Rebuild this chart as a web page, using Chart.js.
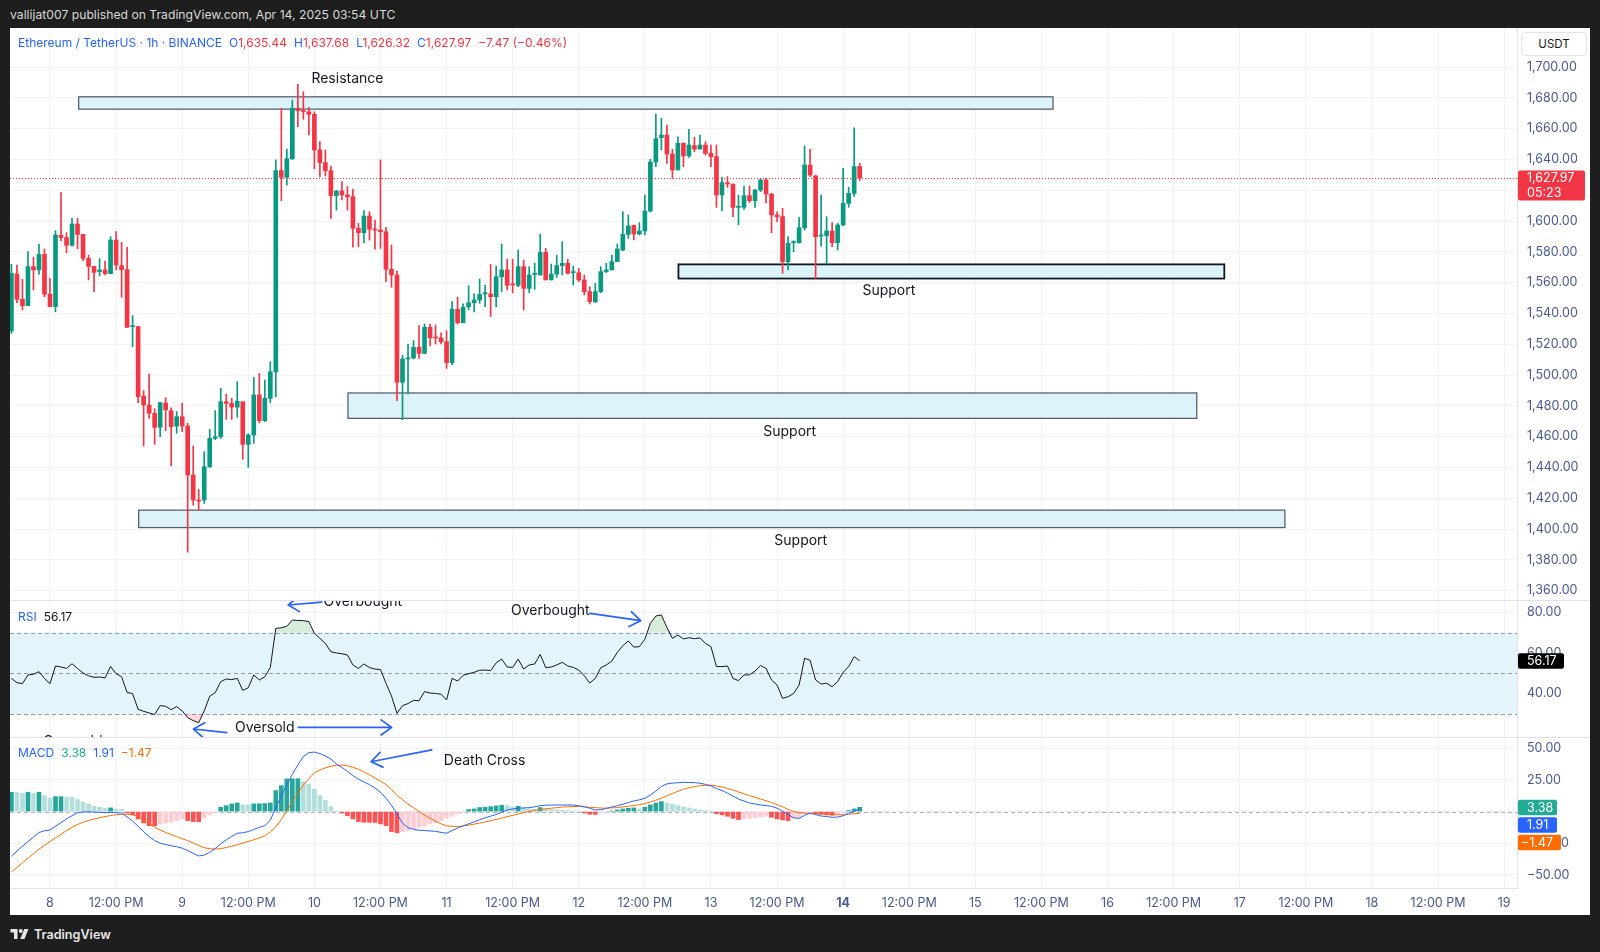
<!DOCTYPE html>
<html>
<head>
<meta charset="utf-8">
<script src="https://cdn.jsdelivr.net/npm/chart.js@4.4.1/dist/chart.umd.min.js"></script>
<style>
  html, body { margin:0; padding:0; }
  body { width:1600px; height:952px; background:#1e1e1e; position:relative; overflow:hidden; font-family: Inter, "Noto Sans", sans-serif; }
  #topbar { position:absolute; left:10px; top:0; height:28px; line-height:30px; color:#d8d8d8; font-size:12.2px; }
  #panel { position:absolute; left:10px; top:28px; width:1580px; height:887px; background:#fff; }
  .pane { position:absolute; left:10px; }
  .pane canvas { display:block; }
  .sep { position:absolute; left:10px; width:1580px; height:1px; background:#e0e3eb; z-index:5; }
  .legend { position:absolute; left:18px; font-size:12px; white-space:nowrap; line-height:16px; z-index:6; display:flex; gap:7px; }
  .blue { color:#2962ff; } .red { color:#f23645; } .dark { color:#131722; }
  #usdt { position:absolute; left:1521px; top:32px; width:64px; height:22px; border:1px solid #e0e3eb; border-radius:5px; background:#fff;
          font-size:11.5px; color:#131722; text-align:center; line-height:22px; z-index:6; }
  #brand { position:absolute; left:10px; top:925px; height:18px; display:flex; align-items:center; color:#e6e6e6; font-size:12.6px; font-weight:600; }
  #brand svg { margin-right:5px; }
</style>
</head>
<body>
<div id="topbar">vallijat007 published on TradingView.com, Apr 14, 2025 03:54 UTC</div>
<div id="panel"></div>

<div class="pane" style="top:28px"><canvas id="priceCanvas" width="1580" height="572"></canvas></div>
<div class="pane" style="top:600px"><canvas id="rsiCanvas" width="1580" height="137"></canvas></div>
<div class="pane" style="top:737px"><canvas id="macdCanvas" width="1580" height="178"></canvas></div>
<div class="sep" style="top:600px"></div>
<div class="sep" style="top:737px"></div>

<div class="legend" style="top:35px">
  <span class="blue">Ethereum / TetherUS · 1h · BINANCE</span>
  <span><span class="blue">O</span><span class="red">1,635.44</span></span>
  <span><span class="blue">H</span><span class="red">1,637.68</span></span>
  <span><span class="blue">L</span><span class="red">1,626.32</span></span>
  <span><span class="blue">C</span><span class="red">1,627.97</span></span>
  <span class="red">−7.47 (−0.46%)</span>
</div>
<div class="legend" style="top:609px"><span class="blue">RSI</span><span class="dark">56.17</span></div>
<div class="legend" style="top:745px"><span class="blue">MACD</span><span style="color:#22ab94">3.38</span><span class="blue">1.91</span><span style="color:#ff6d00">−1.47</span></div>
<div id="usdt">USDT</div>
<div id="brand"><svg width="19" height="14" viewBox="0 0 36 28"><path d="M14 24H7V11H0V4h14v20zM28 24h-8.5l8-20h8.5L28 24z" fill="#e6e6e6"/><circle cx="20.5" cy="8" r="4" fill="#e6e6e6"/></svg>TradingView</div>

<script>
// ================= DATA =================
// hours counted from Apr 8 00:00 (UTC); first candle = Apr 7 17:00, 1h candles
const firstHour = -7;

const opens = [1528.7,1565.7,1549.2,1545.1,1570.4,1568.3,1578.4,1552.5,1544.5,1590.8,
 1589.3,1584.3,1598.1,1591.4,1575.8,1570.6,1567.2,1568.3,1565.9,1587.7,
 1571.1,1568.5,1531.5,1531.5,1486.4,1480.6,1475.2,1466.1,1481.9,1476.9,
 1466.9,1473.0,1466.9,1435.1,1418.9,1418.9,1440.5,1459.0,1460.0,1482.7,
 1481.7,1479.2,1482.7,1455.0,1461.1,1487.1,1470.4,1484.9,1502.2,1632.8,
 1628.4,1640.5,1673.2,1671.7,1671.0,1669.3,1646.2,1638.0,1632.8,1616.5,
 1619.5,1617.0,1615.9,1595.3,1592.5,1603.3,1594.7,1594.2,1593.1,1568.7,
 1565.0,1495.3,1510.5,1511.1,1518.0,1514.1,1531.0,1524.5,1524.1,1521.7,
 1508.1,1542.7,1534.0,1544.4,1547.0,1548.8,1552.7,1552.7,1550.9,1563.9,
 1568.3,1559.2,1558.3,1570.4,1556.3,1565.4,1565.0,1579.7,1561.8,1565.6,
 1571.1,1572.6,1566.5,1566.5,1561.8,1554.2,1547.7,1554.2,1567.2,1568.3,
 1573.7,1581.2,1591.4,1597.2,1591.6,1593.6,1606.5,1638.4,1654.2,1655.9,
 1643.6,1633.2,1650.5,1642.3,1649.0,1646.8,1649.4,1644.0,1641.8,1617.0,
 1625.0,1624.1,1608.9,1608.9,1616.5,1613.3,1620.2,1626.7,1617.6,1604.0,
 1602.9,1573.7,1586.0,1586.0,1595.7,1636.4,1629.3,1590.3,1590.5,1593.6,
 1586.0,1597.5,1611.5,1618.0,1635.44];

const highs = [1572.0,1571.5,1562.2,1580.2,1576.5,1585.1,1581.9,1562.8,1593.8,1618.5,
 1592.5,1601.8,1601.8,1591.4,1578.0,1570.6,1575.6,1574.1,1589.9,1593.2,
 1586.2,1583.0,1538.6,1531.5,1489.9,1500.7,1478.2,1482.1,1485.4,1478.7,
 1476.3,1481.7,1468.7,1454.0,1425.8,1450.3,1464.8,1476.9,1491.4,1487.7,
 1485.0,1495.7,1482.7,1462.0,1498.5,1501.1,1496.8,1508.7,1639.7,1673.2,
 1646.6,1678.6,1689.0,1684.0,1673.9,1671.0,1651.6,1646.2,1635.8,1620.0,
 1625.6,1622.4,1620.6,1598.5,1606.8,1606.1,1600.7,1639.7,1595.9,1584.5,
 1567.6,1513.0,1520.2,1522.4,1532.1,1533.2,1533.2,1532.5,1527.5,1528.8,
 1547.7,1550.5,1546.2,1558.1,1552.7,1562.4,1558.5,1571.9,1570.8,1584.9,
 1575.2,1575.2,1581.2,1574.7,1570.4,1572.6,1591.4,1582.3,1572.1,1577.9,
 1586.6,1575.2,1570.8,1569.3,1565.0,1557.4,1559.6,1570.4,1572.6,1578.0,
 1585.1,1606.1,1604.0,1597.5,1599.0,1616.9,1640.1,1669.5,1666.7,1662.4,
 1646.6,1654.8,1650.9,1659.6,1654.4,1655.9,1651.6,1649.4,1649.4,1628.4,
 1628.9,1624.1,1616.9,1622.8,1622.8,1620.6,1627.8,1627.8,1618.0,1606.1,
 1608.3,1589.9,1587.3,1602.4,1648.8,1646.6,1629.9,1616.9,1602.9,1599.0,
 1598.5,1634.3,1622.0,1660.5,1637.68];

const lows = [1527.0,1547.1,1542.3,1545.1,1555.3,1565.4,1550.9,1544.5,1541.2,1587.3,
 1579.5,1583.8,1582.1,1574.3,1561.8,1554.2,1564.4,1565.0,1565.9,1568.3,
 1550.5,1531.0,1518.5,1482.1,1454.0,1471.9,1455.1,1460.0,1463.9,1441.2,
 1462.2,1463.3,1385.0,1415.6,1412.4,1416.7,1440.0,1458.0,1458.9,1471.3,
 1471.3,1472.6,1445.3,1440.1,1455.7,1469.0,1469.8,1482.0,1486.0,1613.3,
 1623.4,1640.0,1661.3,1666.1,1655.9,1634.0,1628.9,1629.3,1601.8,1607.2,
 1613.7,1607.2,1583.0,1583.4,1586.0,1587.7,1581.7,1582.3,1560.7,1557.0,
 1483.4,1471.0,1487.7,1510.5,1510.9,1514.1,1518.9,1520.2,1520.2,1504.4,
 1506.6,1533.2,1534.0,1542.3,1541.0,1546.6,1544.4,1538.0,1544.4,1554.2,
 1555.3,1553.5,1557.4,1542.3,1553.5,1555.7,1565.0,1561.8,1561.8,1563.5,
 1565.0,1565.6,1558.5,1560.7,1552.0,1546.2,1547.0,1553.5,1566.5,1568.3,
 1573.7,1580.8,1588.8,1587.7,1591.0,1591.0,1605.9,1635.3,1646.2,1637.5,
 1627.8,1633.2,1635.3,1641.4,1645.1,1646.8,1642.9,1635.3,1608.9,1606.6,
 1621.9,1602.9,1597.5,1607.6,1612.0,1608.9,1619.1,1612.0,1592.5,1599.6,
 1566.1,1568.3,1580.1,1585.6,1594.2,1628.9,1562.5,1583.8,1572.1,1583.4,
 1581.2,1596.8,1609.0,1616.0,1626.32];

const closes = [1566.1,1549.2,1545.1,1570.4,1568.3,1578.4,1552.5,1544.5,1591.0,1589.3,
 1584.3,1598.1,1591.4,1575.8,1570.6,1566.7,1568.3,1565.9,1587.7,1571.5,
 1568.5,1531.0,1532.1,1486.0,1480.6,1475.2,1466.1,1482.1,1477.4,1466.5,
 1473.0,1466.9,1435.1,1418.9,1418.2,1440.5,1458.9,1460.0,1482.7,1481.7,
 1479.2,1483.0,1455.0,1461.1,1487.1,1470.4,1484.9,1502.2,1632.8,1628.4,
 1640.5,1673.2,1671.7,1671.0,1669.3,1646.2,1638.0,1632.8,1616.5,1619.5,
 1617.0,1615.8,1595.3,1592.5,1603.3,1594.7,1594.2,1593.1,1568.7,1565.0,
 1495.3,1510.5,1511.1,1518.0,1514.1,1531.0,1524.3,1524.1,1521.7,1508.1,
 1542.7,1534.0,1544.0,1547.0,1548.8,1552.4,1553.5,1550.9,1563.9,1568.3,
 1558.3,1558.5,1570.4,1556.3,1565.0,1566.1,1579.7,1561.8,1565.6,1571.1,
 1572.6,1566.1,1567.0,1561.8,1554.2,1547.7,1554.2,1567.2,1568.3,1573.7,
 1581.9,1591.4,1596.8,1591.6,1593.6,1606.5,1638.4,1653.5,1655.9,1643.6,
 1633.2,1650.5,1642.3,1649.4,1646.8,1649.4,1644.0,1641.8,1617.0,1625.0,
 1624.1,1608.9,1609.6,1616.5,1613.3,1620.2,1626.7,1617.6,1604.0,1602.9,
 1573.7,1585.6,1586.6,1595.7,1636.4,1629.9,1589.9,1591.0,1593.6,1586.0,
 1597.5,1611.5,1618.0,1635.4,1627.97];

const rsiValues = [47.5,45.4,44.9,49.2,49.5,50.8,47.5,44.9,53.6,53.1,
 52.4,54.7,52.4,50.1,48.8,48.0,48.2,47.7,53.4,49.8,
 48.3,40.6,40.0,32.3,31.3,30.5,29.7,34.1,33.8,32.1,
 33.6,31.5,28.2,26.7,25.7,31.5,38.7,40.5,45.9,47.2,
 46.9,47.5,41.6,42.9,49.2,46.7,48.3,52.8,72.1,72.4,
 73.1,76.2,76.0,75.9,75.4,69.7,67.2,64.7,60.6,60.0,
 59.6,59.0,54.1,52.4,54.6,52.8,52.1,51.8,45.1,38.8,
 30.3,34.1,35.1,36.7,36.5,41.0,40.3,40.1,39.7,36.9,
 47.5,46.2,49.0,49.8,50.5,51.5,51.6,51.3,55.1,57.0,
 53.1,52.9,57.0,52.1,54.1,54.6,59.3,52.8,53.1,54.1,
 55.4,53.6,52.9,51.6,48.8,45.2,47.5,52.8,54.1,56.0,
 60.3,63.6,65.9,62.9,63.1,66.7,74.6,78.2,78.7,72.6,
 67.2,68.8,66.9,67.5,67.0,67.4,64.7,63.1,53.3,53.3,
 53.6,47.5,46.4,49.2,49.2,51.1,53.8,52.4,46.7,44.2,
 37.7,38.5,40.0,44.2,57.4,56.4,46.7,44.7,45.1,43.4,
 45.9,50.5,53.3,58.2,56.17];

const macdValues = [-35.3,-31.2,-27.3,-23.7,-20.1,-16.5,-15.2,-14.5,-11.6,-8.7,
 -5.8,-3.2,-0.9,-0.3,-0.1,-0.4,-0.6,-0.8,-0.7,-0.8,
 -1.3,-4.2,-7.5,-11.6,-16.0,-19.8,-22.9,-25.0,-26.0,-27.0,
 -27.7,-28.9,-30.8,-32.9,-35.0,-34.4,-32.2,-29.1,-25.5,-22.3,
 -19.6,-17.1,-16.7,-15.8,-14.1,-12.5,-11.1,-6.8,3.1,12.5,
 21.0,29.5,36.8,43.4,46.6,47.0,45.8,43.9,41.5,37.6,
 34.9,31.8,28.5,25.6,23.4,21.3,18.7,15.3,10.6,5.0,
 -1.7,-9.2,-12.7,-14.0,-14.7,-15.0,-15.3,-15.6,-16.4,-17.1,
 -15.0,-13.0,-11.3,-9.7,-8.1,-6.4,-4.9,-3.6,-2.3,-0.5,
 1.3,2.1,2.7,2.9,3.1,3.8,4.7,5.0,5.2,5.2,
 5.2,5.2,5.2,4.6,3.8,2.7,1.2,1.5,2.6,3.6,
 4.7,5.8,7.1,8.4,9.3,10.5,13.1,16.3,19.9,21.9,
 22.5,22.8,23.1,23.0,22.9,22.4,21.5,20.3,18.2,16.7,
 14.6,12.2,10.0,8.3,6.8,6.0,5.2,4.8,4.2,2.7,
 0.5,-2.4,-4.8,-5.4,-2.9,-1.2,-2.4,-3.5,-3.9,-4.5,
 -4.3,-3.3,-1.4,0.2,1.91];

const signalValues = [-47.7,-44.1,-40.5,-36.9,-33.3,-29.7,-26.6,-23.7,-20.8,-17.9,
 -15.0,-12.4,-10.2,-8.4,-7.0,-5.9,-4.8,-4.0,-3.1,-2.5,
 -2.1,-2.1,-2.5,-3.9,-6.7,-9.6,-12.4,-14.5,-16.5,-18.1,
 -19.8,-21.4,-23.0,-24.8,-26.8,-28.5,-29.3,-29.6,-29.2,-28.4,
 -27.3,-26.2,-24.9,-23.6,-22.2,-20.8,-19.1,-16.1,-12.0,-6.2,
 0.4,7.8,14.5,21.0,26.0,30.6,32.8,34.6,35.8,36.5,
 36.7,36.2,35.0,33.5,31.3,29.1,26.6,24.0,21.4,17.3,
 12.9,9.5,5.9,3.1,0.1,-2.8,-5.3,-7.5,-9.7,-11.3,
 -11.6,-11.8,-11.3,-10.7,-9.9,-9.1,-8.2,-7.2,-6.2,-5.2,
 -4.0,-3.0,-1.9,-0.8,0.1,0.9,1.6,2.2,2.7,3.1,
 3.6,3.8,4.0,4.1,3.8,3.4,3.1,2.8,2.7,2.9,
 3.2,3.7,4.2,4.8,5.5,6.3,7.6,8.9,10.6,12.5,
 14.3,16.0,17.7,18.8,19.8,20.4,20.7,21.0,20.2,19.4,
 18.3,17.0,15.5,14.1,12.6,11.3,10.0,8.6,7.1,5.5,
 3.8,1.8,0.1,-0.8,-1.2,-1.3,-1.6,-1.9,-2.0,-2.2,
 -2.5,-2.5,-2.0,-1.7,-1.47];

const histValues = [15.3,15.1,14.5,15.3,14.5,15.3,12.6,10.5,11.8,11.8,
 11.3,11.2,9.5,7.4,6.1,4.2,3.4,2.6,2.9,2.1,
 1.6,-1.1,-2.6,-5.8,-8.9,-11.1,-11.2,-9.7,-8.9,-8.4,
 -7.1,-5.8,-7.1,-7.9,-8.0,-5.3,-2.6,-0.5,3.4,4.7,
 6.1,6.8,5.3,5.2,6.1,6.2,6.3,6.8,16.6,20.5,
 25.8,25.9,26.0,23.7,21.8,17.9,12.6,8.7,3.9,0.5,
 -1.1,-3.2,-5.8,-7.9,-8.4,-8.5,-8.6,-9.7,-11.1,-15.8,
 -16.8,-15.8,-15.0,-13.7,-12.4,-11.1,-9.7,-8.9,-7.1,-5.3,
 -3.7,-1.8,-0.5,1.6,2.1,3.2,3.4,3.9,4.5,5.0,
 4.7,3.7,4.2,2.9,2.1,2.0,3.2,2.1,1.6,1.3,
 1.1,0.8,0.5,0.3,-1.1,-2.1,-2.2,-1.0,-0.3,0.5,
 1.3,2.1,2.6,2.9,2.0,3.4,5.3,6.8,7.9,6.8,
 5.8,4.7,3.7,2.9,2.1,1.3,0.8,0.3,-1.6,-2.6,
 -3.7,-5.3,-6.3,-5.8,-5.3,-4.7,-4.2,-3.7,-4.5,-5.8,
 -6.6,-7.1,-5.8,-4.7,-1.8,-1.1,-1.6,-2.1,-2.6,-2.9,
 -2.1,-1.1,0.8,2.1,3.38];

const xTickHours = [0,12,24,36,48,60,72,84,96,108,120,132,144,156,168,180,192,204,216,228,240,252,264];
const xTickLabels = ['8','12:00 PM','9','12:00 PM','10','12:00 PM','11','12:00 PM','12','12:00 PM','13','12:00 PM',
                     '14','12:00 PM','15','12:00 PM','16','12:00 PM','17','12:00 PM','18','12:00 PM','19'];
const boldTickLabel = '14';
const priceTicks = [1360,1380,1400,1420,1440,1460,1480,1500,1520,1540,1560,1580,1600,1620,1640,1660,1680,1700];
const rsiTicks = [40,60,80];
const rsiLevels = [70,50,30];
const macdTicks = [-50,-25,0,25,50];
const countdown = '05:23';

// drawings (in chart coordinates: hours, price / indicator value)
const zoneNames   = ['Resistance','Support','Support','Support'];
const zoneHours   = [[5.2,182.1],[114.1,213.2],[54.1,208.2],[16.1,224.2]];
const zonePrices  = [[1672.7,1680.7],[1562.7,1571.9],[1471.9,1488.4],[1401.0,1412.3]];
const zoneTextPos = [[54.0,1692.5],[152.3,1554.7],[134.3,1463.3],[136.3,1392.4]];

// ================= STYLE =================
const FONT = 'Inter, "Noto Sans", sans-serif';
const UP = '#089981', DOWN = '#f23645';
const AXIS_TXT = '#4a5a8c';
const GRID = '#f1f3f8';
const SEP = '#e0e3eb';
const X_MIN = -7.26, X_MAX = 266.34;
const AXIS_W = 73;
Chart.defaults.font.family = FONT;

const hours = opens.map((_, i) => firstHour + i);
const candleColors = closes.map((c, i) => c >= opens[i] ? UP : DOWN);
const histColors = histValues.map((v, i) => {
  const p = i > 0 ? histValues[i - 1] : v;
  if (v >= 0) return v >= p ? '#26a69a' : '#b2dfdb';
  return v < p ? '#ff5252' : '#ffcdd2';
});
const fmt2 = v => (v < 0 ? '−' : '') + Math.abs(v).toLocaleString('en-US', {minimumFractionDigits: 2, maximumFractionDigits: 2});

function xScale(show) {
  return {
    type: 'linear', min: X_MIN, max: X_MAX, offset: false,
    grid: { color: GRID, drawTicks: false, offset: false },
    border: { display: show, color: SEP },
    afterBuildTicks: s => { s.ticks = xTickHours.map(v => ({ value: v })); },
    ticks: {
      display: show, autoSkip: false, maxRotation: 0, padding: 8, color: AXIS_TXT,
      font: c => ({ family: FONT, size: 12.5, weight: xTickLabels[c.index] === boldTickLabel ? 'bold' : 'normal' }),
      callback: (v, i) => xTickLabels[i]
    },
    afterFit: s => { s.height = show ? 27 : 0; s.paddingLeft = 0; s.paddingRight = 0; }
  };
}
function yScale(min, max, ticks) {
  return {
    position: 'right', min, max,
    grid: { color: GRID, drawTicks: false },
    border: { display: true, color: SEP },
    afterBuildTicks: s => { s.ticks = ticks.map(v => ({ value: v })); },
    ticks: { padding: 10, color: AXIS_TXT, font: { family: FONT, size: 12.5 }, callback: v => fmt2(v) },
    afterFit: s => { s.width = AXIS_W; s.paddingTop = 0; s.paddingBottom = 0; }
  };
}

function arrow(ctx, x1, y1, x2, y2) {
  const a = Math.atan2(y2 - y1, x2 - x1), L = 13, s = 0.62;
  ctx.beginPath();
  ctx.moveTo(x1, y1); ctx.lineTo(x2, y2);
  ctx.moveTo(x2 - L * Math.cos(a - s), y2 - L * Math.sin(a - s));
  ctx.lineTo(x2, y2);
  ctx.lineTo(x2 - L * Math.cos(a + s), y2 - L * Math.sin(a + s));
  ctx.stroke();
}

const drawings = {
  id: 'drawings',
  beforeDatasetsDraw(chart, args, o) {
    const { ctx, chartArea: a, scales: { x, y } } = chart;
    ctx.save();
    ctx.beginPath(); ctx.rect(a.left, a.top, a.width, a.height); ctx.clip();
    (o.bands || []).forEach(b => {
      const y1 = y.getPixelForValue(b.from), y2 = y.getPixelForValue(b.to);
      ctx.fillStyle = b.color; ctx.fillRect(a.left, Math.min(y1, y2), a.width, Math.abs(y2 - y1));
    });
    (o.levels || []).forEach(l => {
      const yy = Math.round(y.getPixelForValue(l.value)) + 0.5;
      ctx.strokeStyle = l.color; ctx.lineWidth = 1; ctx.setLineDash(l.dash);
      ctx.beginPath(); ctx.moveTo(a.left, yy); ctx.lineTo(a.right, yy); ctx.stroke();
    });
    ctx.setLineDash([]);
    (o.zones || []).forEach(z => {
      const x1 = x.getPixelForValue(z.t[0]), x2 = x.getPixelForValue(z.t[1]);
      const y1 = y.getPixelForValue(z.p[1]), y2 = y.getPixelForValue(z.p[0]);
      ctx.fillStyle = '#dcf3f9'; ctx.fillRect(x1, y1, x2 - x1, y2 - y1);
      ctx.strokeStyle = z.border; ctx.lineWidth = z.lw; ctx.strokeRect(x1, y1, x2 - x1, y2 - y1);
    });
    ctx.restore();
  },
  afterDatasetsDraw(chart, args, o) {
    const { ctx, chartArea: a, scales: { x, y } } = chart;
    ctx.save();
    ctx.beginPath(); ctx.rect(a.left, a.top, a.width, a.height); ctx.clip();
    if (o.priceLine) {
      const yy = Math.round(y.getPixelForValue(o.priceLine.value)) + 0.5;
      ctx.strokeStyle = o.priceLine.color; ctx.lineWidth = 1; ctx.setLineDash([1, 2]);
      ctx.beginPath(); ctx.moveTo(a.left, yy); ctx.lineTo(a.right, yy); ctx.stroke();
      ctx.setLineDash([]);
    }
    (o.arrows || []).forEach(r => {
      ctx.strokeStyle = '#2962ff'; ctx.lineWidth = 1.7; ctx.lineCap = 'round'; ctx.lineJoin = 'round';
      arrow(ctx, x.getPixelForValue(r[0]), y.getPixelForValue(r[1]), x.getPixelForValue(r[2]), y.getPixelForValue(r[3]));
    });
    (o.texts || []).forEach(t => {
      ctx.fillStyle = '#131722'; ctx.font = '14px ' + FONT;
      ctx.textAlign = t.align || 'center'; ctx.textBaseline = t.baseline || 'middle';
      ctx.fillText(t.text, x.getPixelForValue(t.t), y.getPixelForValue(t.v));
    });
    ctx.restore();
  },
  afterDraw(chart, args, o) {
    const { ctx, chartArea: a, scales: { y } } = chart;
    let prevBottom = -1e9;
    (o.labels || []).forEach(l => {
      const h = 14.5 * l.lines.length + 1;
      let top = y.getPixelForValue(l.value) - 7.5;
      if (top < prevBottom + 2) top = prevBottom + 2;
      ctx.save();
      ctx.fillStyle = l.bg;
      ctx.beginPath(); ctx.roundRect(a.right + 1, top, l.w, h, 2); ctx.fill();
      ctx.fillStyle = '#fff'; ctx.font = '12.5px ' + FONT; ctx.textAlign = 'left'; ctx.textBaseline = 'middle';
      l.lines.forEach((s, k) => ctx.fillText(s, a.right + 10 - (s[0] === '−' ? 6 : 0), top + 8 + k * 14.5));
      ctx.restore();
      prevBottom = top + h;
    });
  }
};

const common = {
  responsive: false, animation: false, events: [],
  layout: { padding: 0 },
  plugins: { legend: { display: false }, tooltip: { enabled: false } }
};

// ---------- PRICE ----------
const lastClose = closes[closes.length - 1];
new Chart(document.getElementById('priceCanvas'), {
  type: 'bar',
  data: { datasets: [
    { data: hours.map((h, i) => ({ x: h, y: [lows[i], highs[i]] })), backgroundColor: candleColors, barThickness: 1, grouped: false, order: 2 },
    { data: hours.map((h, i) => ({ x: h, y: [opens[i], closes[i]] })), backgroundColor: candleColors, barThickness: 4, minBarLength: 1, grouped: false, order: 1 }
  ]},
  options: Object.assign({}, common, {
    scales: { x: xScale(false), y: yScale(1353.96, 1725.39, priceTicks) },
    plugins: Object.assign({}, common.plugins, { drawings: {
      zones: zoneHours.map((t, i) => ({ t, p: zonePrices[i], border: i === 1 ? '#131722' : '#5d606b', lw: i === 1 ? 1.8 : 1.3 })),
      texts: zoneNames.map((n, i) => ({ text: n, t: zoneTextPos[i][0], v: zoneTextPos[i][1] })),
      priceLine: { value: lastClose, color: DOWN },
      labels: [{ value: lastClose, lines: [fmt2(lastClose), countdown], bg: DOWN, w: 67 }]
    }})
  }),
  plugins: [drawings]
});

// ---------- RSI ----------
const rsiPts = hours.map((h, i) => ({ x: h, y: rsiValues[i] }));
new Chart(document.getElementById('rsiCanvas'), {
  type: 'line',
  data: { datasets: [
    { data: rsiPts, borderColor: '#131722', borderWidth: 1, pointRadius: 0, tension: 0,
      fill: { target: { value: 70 }, above: 'rgba(76,175,80,0.22)', below: 'rgba(0,0,0,0)' } },
    { data: rsiPts, borderColor: 'rgba(0,0,0,0)', borderWidth: 0, pointRadius: 0, tension: 0,
      fill: { target: { value: 30 }, above: 'rgba(0,0,0,0)', below: 'rgba(242,54,69,0.2)' } }
  ]},
  options: Object.assign({}, common, {
    scales: { x: xScale(false), y: yScale(18.67, 86.05, rsiTicks) },
    plugins: Object.assign({}, common.plugins, { drawings: {
      bands: [{ from: rsiLevels[0], to: rsiLevels[2], color: '#e3f5fa' }],
      levels: rsiLevels.map(v => ({ value: v, color: '#9598a1', dash: [4, 3] })),
      arrows: [[49.33, 85.0, 43.26, 83.6], [98.04, 79.5, 107.24, 75.9], [32.1, 20.8, 26.05, 22.6], [45.08, 23.4, 62.03, 23.4]],
      texts: [
        { text: 'Overbought', t: 49.65, v: 83.25, align: 'left', baseline: 'alphabetic' },
        { text: 'Overbought', t: 83.7, v: 78.7, align: 'left', baseline: 'alphabetic' },
        { text: 'Oversold', t: 33.6, v: 21.0, align: 'left', baseline: 'alphabetic' },
        { text: 'Oversold', t: -1.27, v: 14.4, align: 'left', baseline: 'alphabetic' }
      ],
      labels: [{ value: rsiValues[rsiValues.length - 1], lines: [rsiValues[rsiValues.length - 1].toFixed(2)], bg: '#000000', w: 46 }]
    }})
  }),
  plugins: [drawings]
});

// ---------- MACD ----------
const lastHist = histValues[histValues.length - 1], lastMacd = macdValues[macdValues.length - 1], lastSig = signalValues[signalValues.length - 1];
new Chart(document.getElementById('macdCanvas'), {
  type: 'bar',
  data: { datasets: [
    { type: 'line', data: hours.map((h, i) => ({ x: h, y: macdValues[i] })), borderColor: '#2962ff', borderWidth: 1, pointRadius: 0, tension: 0, order: 1 },
    { type: 'line', data: hours.map((h, i) => ({ x: h, y: signalValues[i] })), borderColor: '#ff6d00', borderWidth: 1, pointRadius: 0, tension: 0, order: 2 },
    { data: hours.map((h, i) => ({ x: h, y: histValues[i] })), backgroundColor: histColors, barThickness: 4, grouped: false, order: 3 }
  ]},
  options: Object.assign({}, common, {
    scales: { x: xScale(true), y: yScale(-60.35, 58.93, macdTicks) },
    plugins: Object.assign({}, common.plugins, { drawings: {
      levels: [{ value: 0, color: '#b2b5be', dash: [4, 3] }],
      arrows: [[69.3, 48.7, 58.3, 39.4]],
      texts: [{ text: 'Death Cross', t: 71.5, v: 37.2, align: 'left', baseline: 'alphabetic' }],
      labels: [
        { value: lastHist, lines: [fmt2(lastHist)], bg: '#22ab94', w: 39 },
        { value: lastMacd, lines: [fmt2(lastMacd)], bg: '#2962ff', w: 39 },
        { value: lastSig, lines: [fmt2(lastSig)], bg: '#ff6d00', w: 43 }
      ]
    }})
  }),
  plugins: [drawings]
});
</script>
</body>
</html>
